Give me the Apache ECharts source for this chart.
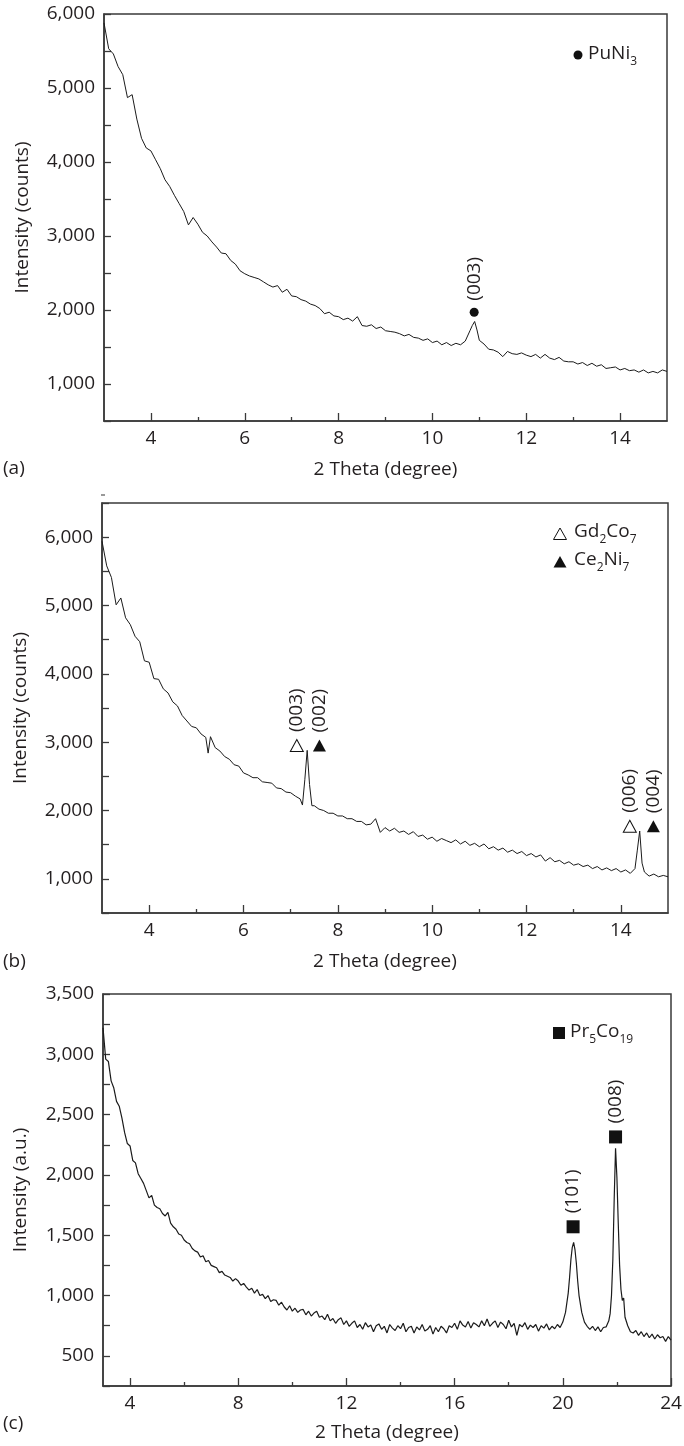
<!DOCTYPE html>
<html>
<head>
<meta charset="utf-8">
<script src="https://cdn.jsdelivr.net/npm/echarts@6/dist/echarts.min.js"></script>
<style>
html,body{margin:0;padding:0;background:#fff;}
#chart{width:684px;height:1446px;}
</style>
</head>
<body>
<div id="chart"></div>
<script>
// ---------------- DATA ----------------
// Panel (a)
const thetaA = [3.0,3.1,3.2,3.3,3.4,3.5,3.6,3.7,3.8,3.9,4.0,4.1,4.2,4.3,4.4,4.5,4.6,4.7,4.8,4.9,5.0,5.1,5.2,5.3,5.4,5.5,5.6,5.7,5.8,5.9,6.0,6.1,6.2,6.3,6.4,6.5,6.6,6.7,6.8,6.9,7.0,7.1,7.2,7.3,7.4,7.5,7.6,7.7,7.8,7.9,8.0,8.1,8.2,8.3,8.4,8.5,8.6,8.7,8.8,8.9,9.0,9.1,9.2,9.3,9.4,9.5,9.6,9.7,9.8,9.9,10.0,10.1,10.2,10.3,10.4,10.5,10.6,10.7,10.8,10.85,10.9,10.95,11.0,11.1,11.2,11.3,11.4,11.5,11.6,11.7,11.8,11.9,12.0,12.1,12.2,12.3,12.4,12.5,12.6,12.7,12.8,12.9,13.0,13.1,13.2,13.3,13.4,13.5,13.6,13.7,13.8,13.9,14.0,14.1,14.2,14.3,14.4,14.5,14.6,14.7,14.8,14.9,15.0];
const countsA = [5880,5530,5460,5290,5180,4870,4910,4580,4320,4190,4150,4030,3910,3760,3670,3550,3440,3330,3150,3250,3160,3050,3000,2920,2850,2770,2760,2670,2620,2530,2490,2460,2440,2420,2380,2340,2310,2330,2240,2280,2190,2180,2140,2120,2080,2060,2020,1950,1970,1920,1910,1870,1890,1850,1910,1790,1780,1800,1750,1770,1720,1710,1700,1680,1650,1670,1630,1620,1590,1610,1560,1580,1530,1560,1520,1550,1530,1580,1720,1790,1845,1730,1590,1540,1470,1460,1430,1370,1440,1410,1400,1420,1390,1370,1400,1350,1400,1350,1330,1360,1310,1300,1300,1270,1290,1250,1280,1240,1260,1210,1220,1230,1190,1210,1180,1190,1160,1190,1150,1170,1150,1190,1170];
const peakThetaA = [10.89];
const peakCountsA = [1970];
const peakHklA = ['(003)'];

// Panel (b)
const thetaB = [3.0,3.1,3.2,3.3,3.4,3.5,3.6,3.7,3.8,3.9,4.0,4.1,4.2,4.3,4.4,4.5,4.6,4.7,4.8,4.9,5.0,5.1,5.2,5.25,5.3,5.4,5.5,5.6,5.7,5.8,5.9,6.0,6.1,6.2,6.3,6.4,6.5,6.6,6.7,6.8,6.9,7.0,7.1,7.2,7.25,7.3,7.35,7.4,7.45,7.5,7.6,7.7,7.8,7.9,8.0,8.1,8.2,8.3,8.4,8.5,8.6,8.7,8.8,8.9,9.0,9.1,9.2,9.3,9.4,9.5,9.6,9.7,9.8,9.9,10.0,10.1,10.2,10.3,10.4,10.5,10.6,10.7,10.8,10.9,11.0,11.1,11.2,11.3,11.4,11.5,11.6,11.7,11.8,11.9,12.0,12.1,12.2,12.3,12.4,12.5,12.6,12.7,12.8,12.9,13.0,13.1,13.2,13.3,13.4,13.5,13.6,13.7,13.8,13.9,14.0,14.1,14.2,14.3,14.35,14.4,14.45,14.5,14.6,14.7,14.8,14.9,15.0];
const countsB = [5940,5580,5410,5010,5110,4820,4720,4550,4470,4190,4170,3930,3920,3780,3720,3590,3530,3390,3310,3230,3210,3120,3070,2840,3080,2920,2870,2790,2750,2670,2650,2550,2520,2480,2480,2420,2410,2400,2330,2320,2270,2260,2210,2170,2080,2450,2880,2380,2070,2070,2020,2000,1960,1960,1920,1920,1880,1880,1840,1840,1790,1800,1880,1680,
  1750,1700,1740,1680,1700,1650,1690,1620,1640,1580,1610,1550,1590,1560,1530,1570,1510,1550,1490,1520,1470,1510,1440,1470,1420,1450,1390,1420,1370,1400,1340,1370,1320,1350,1260,1310,1250,1270,1220,1250,1200,1220,1180,1200,1150,1180,1130,1160,1120,1150,1100,1130,1080,
  1150,1420,1700,1230,1100,1040,1070,1030,1050,1030];
const peakThetaB = [7.13, 7.61, 14.19, 14.69];
const peakCountsB = [2950, 2950, 1770, 1770];
const peakHklB = ['(003)', '(002)', '(006)', '(004)'];
const peakOpenB = [true, false, true, false];

// Panel (c)
const thetaC = [3.0,3.1,3.2,3.3,3.4,3.5,3.6,3.7,3.8,3.9,4.0,4.1,4.2,4.3,4.4,4.5,4.6,4.7,4.8,4.9,5.0,5.1,5.2,5.3,5.4,5.5,5.6,5.7,5.8,5.9,6.0,6.1,6.2,6.3,6.4,6.5,6.6,6.7,6.8,6.9,7.0,7.1,7.2,7.3,7.4,7.5,7.6,7.7,7.8,7.9,8.0,8.1,8.2,8.3,8.4,8.5,8.6,8.7,8.8,8.9,9.0,9.1,9.2,9.3,9.4,9.5,9.6,9.7,9.8,9.9,10.0,10.1,10.2,10.3,10.4,10.5,10.6,10.7,10.8,10.9,11.0,11.1,11.2,11.3,11.4,11.5,11.6,11.7,11.8,11.9,12.0,12.1,12.2,12.3,12.4,12.5,12.6,12.7,12.8,12.9,13.0,13.1,13.2,13.3,13.4,13.5,13.6,13.7,13.8,13.9,14.0,14.1,14.2,14.3,14.4,14.5,14.6,14.7,14.8,14.9,15.0,15.1,15.2,15.3,15.4,15.5,15.6,15.7,15.8,15.9,16.0,16.1,16.2,16.3,16.4,16.5,16.6,16.7,16.8,16.9,17.0,17.1,17.2,17.3,17.4,17.5,17.6,17.7,17.8,17.9,18.0,18.1,18.2,18.3,18.4,18.5,18.6,18.7,18.8,18.9,19.0,19.1,19.2,19.3,19.4,19.5,19.6,19.7,19.8,19.9,20.0,20.1,20.2,20.25,20.3,20.35,20.4,20.45,20.5,20.55,20.6,20.7,20.8,20.9,21.0,21.1,21.2,21.3,21.4,21.5,21.6,21.7,21.75,21.8,21.85,21.9,21.95,22.0,22.05,22.1,22.15,22.2,22.25,22.3,22.4,22.5,22.6,22.7,22.8,22.9,23.0,23.1,23.2,23.3,23.4,23.5,23.6,23.7,23.8,23.9,24.0];
const countsC = [
  3220,2960,2940,2780,2720,2610,2570,2470,2350,2260,2240,2120,2100,2010,1970,1930,1870,1810,1830,1750,1730,1720,1680,1660,1690,1600,1570,1550,1510,1500,1460,1440,1430,1390,1370,1360,1320,1330,1280,1290,1250,1240,1230,1190,1200,1170,1160,1150,1120,1140,
  1120,1085,1100,1070,1045,1060,1020,1050,1000,1010,975,1000,950,965,960,920,945,905,880,915,870,895,860,880,885,840,870,830,855,870,820,830,800,845,790,810,770,800,815,760,
  790,745,770,790,735,760,720,775,740,755,700,750,765,720,745,690,760,730,710,750,725,770,700,735,745,690,740,715,760,705,720,750,680,735,700,745,725,690,750,735,
  770,720,790,755,740,785,730,775,760,740,790,750,805,745,770,790,735,780,760,725,795,740,770,670,760,740,775,720,755,735,760,705,750,730,765,715,745,725,760,735,
  780,860,1020,1150,1300,1400,1440,1380,1270,1120,1000,860,780,745,720,745,710,740,700,735,740,790,850,1000,1300,1800,2220,1980,1600,1250,1050,960,980,820,750,700,690,710,670,700,660,690,650,680,640,675,650,660,620,660,630];
const peakThetaC = [20.38, 21.95];
const peakCountsC = [1570, 2315];
const peakHklC = ['(101)', '(008)'];

// Axis tick values
const xMajorAB = [4, 6, 8, 10, 12, 14];
const xMinorAB = [5, 7, 9, 11, 13];
const xMajorC = [4, 8, 12, 16, 20, 24];
const xMinorC = [6, 10, 14, 18, 22];

// ---------------- STYLE ----------------
const FONT = "'Open Sans', sans-serif";
const TXT = '#231f20';
const AX = '#3a3a3a';
const FS = 19;

const chart = echarts.init(document.getElementById('chart'), null, {renderer: 'canvas'});

function pairs(xs, ys) { return xs.map((x, i) => [x, ys[i]]); }
function thousands(v) { return v.toLocaleString('en-US'); }

const grids = [
  {left: 104, top: 14, width: 563, height: 407},
  {left: 102, top: 503, width: 566, height: 410},
  {left: 103, top: 994, width: 568, height: 392}
].map(g => Object.assign(g, {show: true, borderColor: AX, borderWidth: 1.5, backgroundColor: 'transparent', containLabel: false, outerBoundsMode: 'none'}));

function xMain(gi, max, major, gap) {
  return {
    gridIndex: gi, type: 'value', min: 3, max: max, position: 'bottom',
    name: '2 Theta (degree)', nameLocation: 'middle', nameGap: gap,
    nameTextStyle: {fontSize: FS, color: TXT, fontFamily: FONT},
    axisLine: {show: true, onZero: false, lineStyle: {color: AX, width: 1.5}},
    axisTick: {show: true, inside: true, length: 8, customValues: major, lineStyle: {color: AX, width: 1.3}},
    axisLabel: {show: true, customValues: major, fontSize: FS, color: TXT, fontFamily: FONT, margin: 8},
    splitLine: {show: false}
  };
}
function xMinor(gi, max, minor) {
  return {
    gridIndex: gi, type: 'value', min: 3, max: max, position: 'bottom',
    axisLine: {show: false},
    axisTick: {show: true, inside: true, length: 4, customValues: minor, lineStyle: {color: AX, width: 1.3}},
    axisLabel: {show: false},
    splitLine: {show: false}
  };
}
function yAxis(gi, min, max, interval, labelStep, name, gap) {
  return {
    gridIndex: gi, type: 'value', min: min, max: max, interval: interval,
    name: name, nameLocation: 'middle', nameGap: gap, nameRotate: 90,
    nameTextStyle: {fontSize: FS, color: TXT, fontFamily: FONT},
    axisLine: {show: true, onZero: false, lineStyle: {color: AX, width: 1.5}},
    axisTick: {show: true, inside: true, length: 7, lineStyle: {color: AX, width: 1.3}},
    axisLabel: {show: true, fontSize: FS, color: TXT, fontFamily: FONT, margin: 9,
      formatter: v => (v % labelStep === 0 ? thousands(v) : '')},
    splitLine: {show: false}
  };
}

const labelBase = {show: true, position: 'top', rotate: 90, align: 'left', verticalAlign: 'middle',
  fontSize: FS, color: TXT, fontFamily: FONT};

function mp(xs, ys, hkls, symbolFn) {
  return {
    silent: true, animation: false,
    data: xs.map((x, i) => Object.assign({coord: [x, ys[i]], value: hkls[i],
      label: Object.assign({}, labelBase, {formatter: hkls[i], distance: 7})}, symbolFn(i)))
  };
}

const seriesLine = {type: 'line', showSymbol: false, symbol: 'none', smooth: false,
  lineStyle: {color: '#1b1b1b', width: 1}, animation: false, z: 3};

const richSub = {
  m: {fontSize: FS, lineHeight: 22, verticalAlign: 'top', fontFamily: FONT, fill: TXT},
  s: {fontSize: 12, lineHeight: 12, padding: [12, 0, 0, 0], verticalAlign: 'top', fontFamily: FONT, fill: TXT}
};

const option = {
  backgroundColor: '#fff',
  animation: false,
  grid: grids,
  xAxis: [
    xMain(0, 15, xMajorAB, 39), xMinor(0, 15, xMinorAB),
    xMain(1, 15, xMajorAB, 39), xMinor(1, 15, xMinorAB),
    xMain(2, 24, xMajorC, 37), xMinor(2, 24, xMinorC)
  ],
  yAxis: [
    yAxis(0, 500, 6000, 500, 1000, 'Intensity (counts)', 72),
    yAxis(1, 500, 6500, 500, 1000, 'Intensity (counts)', 72),
    yAxis(2, 250, 3500, 250, 500, 'Intensity (a.u.)', 73)
  ],
  series: [
    Object.assign({}, seriesLine, {xAxisIndex: 0, yAxisIndex: 0, data: pairs(thetaA, countsA),
      markPoint: mp(peakThetaA, peakCountsA, peakHklA, () => ({symbol: 'circle', symbolSize: 9, itemStyle: {color: '#111'}}))}),
    Object.assign({}, seriesLine, {xAxisIndex: 2, yAxisIndex: 1, data: pairs(thetaB, countsB),
      markPoint: mp(peakThetaB, peakCountsB, peakHklB, i => ({symbol: 'triangle', symbolSize: [13, 12],
        itemStyle: peakOpenB[i] ? {color: '#fff', borderColor: '#111', borderWidth: 1} : {color: '#111'}}))}),
    Object.assign({}, seriesLine, {xAxisIndex: 4, yAxisIndex: 2, data: pairs(thetaC, countsC),
      lineStyle: {color: '#1b1b1b', width: 1.2},
      markPoint: mp(peakThetaC, peakCountsC, peakHklC, () => ({symbol: 'rect', symbolSize: 13, itemStyle: {color: '#111'}}))})
  ],
  graphic: [
    // panel letters
    {type: 'text', left: 3, top: 459, style: {text: '(a)', fontSize: FS, fill: TXT, fontFamily: FONT}},
    {type: 'text', left: 3, top: 952, style: {text: '(b)', fontSize: FS, fill: TXT, fontFamily: FONT}},
    {type: 'text', left: 3, top: 1414, style: {text: '(c)', fontSize: FS, fill: TXT, fontFamily: FONT}},
    // stray dash above panel (b)
    {type: 'line', shape: {x1: 101, y1: 495, x2: 105, y2: 495}, style: {stroke: '#555', lineWidth: 1.2}},
    // legend (a)
    {type: 'circle', shape: {cx: 578, cy: 55, r: 4.5}, style: {fill: '#111'}},
    {type: 'text', x: 588, y: 44, style: {text: '{m|PuNi}{s|3}', fill: TXT, fontFamily: FONT, rich: richSub}},
    // legend (b)
    {type: 'polygon', shape: {points: [[560, 528], [566.5, 539.5], [553.5, 539.5]]}, style: {fill: '#fff', stroke: '#111', lineWidth: 1}},
    {type: 'text', x: 574, y: 522, style: {text: '{m|Gd}{s|2}{m|Co}{s|7}', fill: TXT, fontFamily: FONT, rich: richSub}},
    {type: 'polygon', shape: {points: [[560, 556], [566.5, 567.5], [553.5, 567.5]]}, style: {fill: '#111'}},
    {type: 'text', x: 574, y: 550, style: {text: '{m|Ce}{s|2}{m|Ni}{s|7}', fill: TXT, fontFamily: FONT, rich: richSub}},
    // legend (c)
    {type: 'rect', shape: {x: 553, y: 1027, width: 12, height: 12}, style: {fill: '#111'}},
    {type: 'text', x: 570, y: 1022, style: {text: '{m|Pr}{s|5}{m|Co}{s|19}', fill: TXT, fontFamily: FONT, rich: richSub}}
  ]
};
chart.setOption(option);
</script>
</body>
</html>
